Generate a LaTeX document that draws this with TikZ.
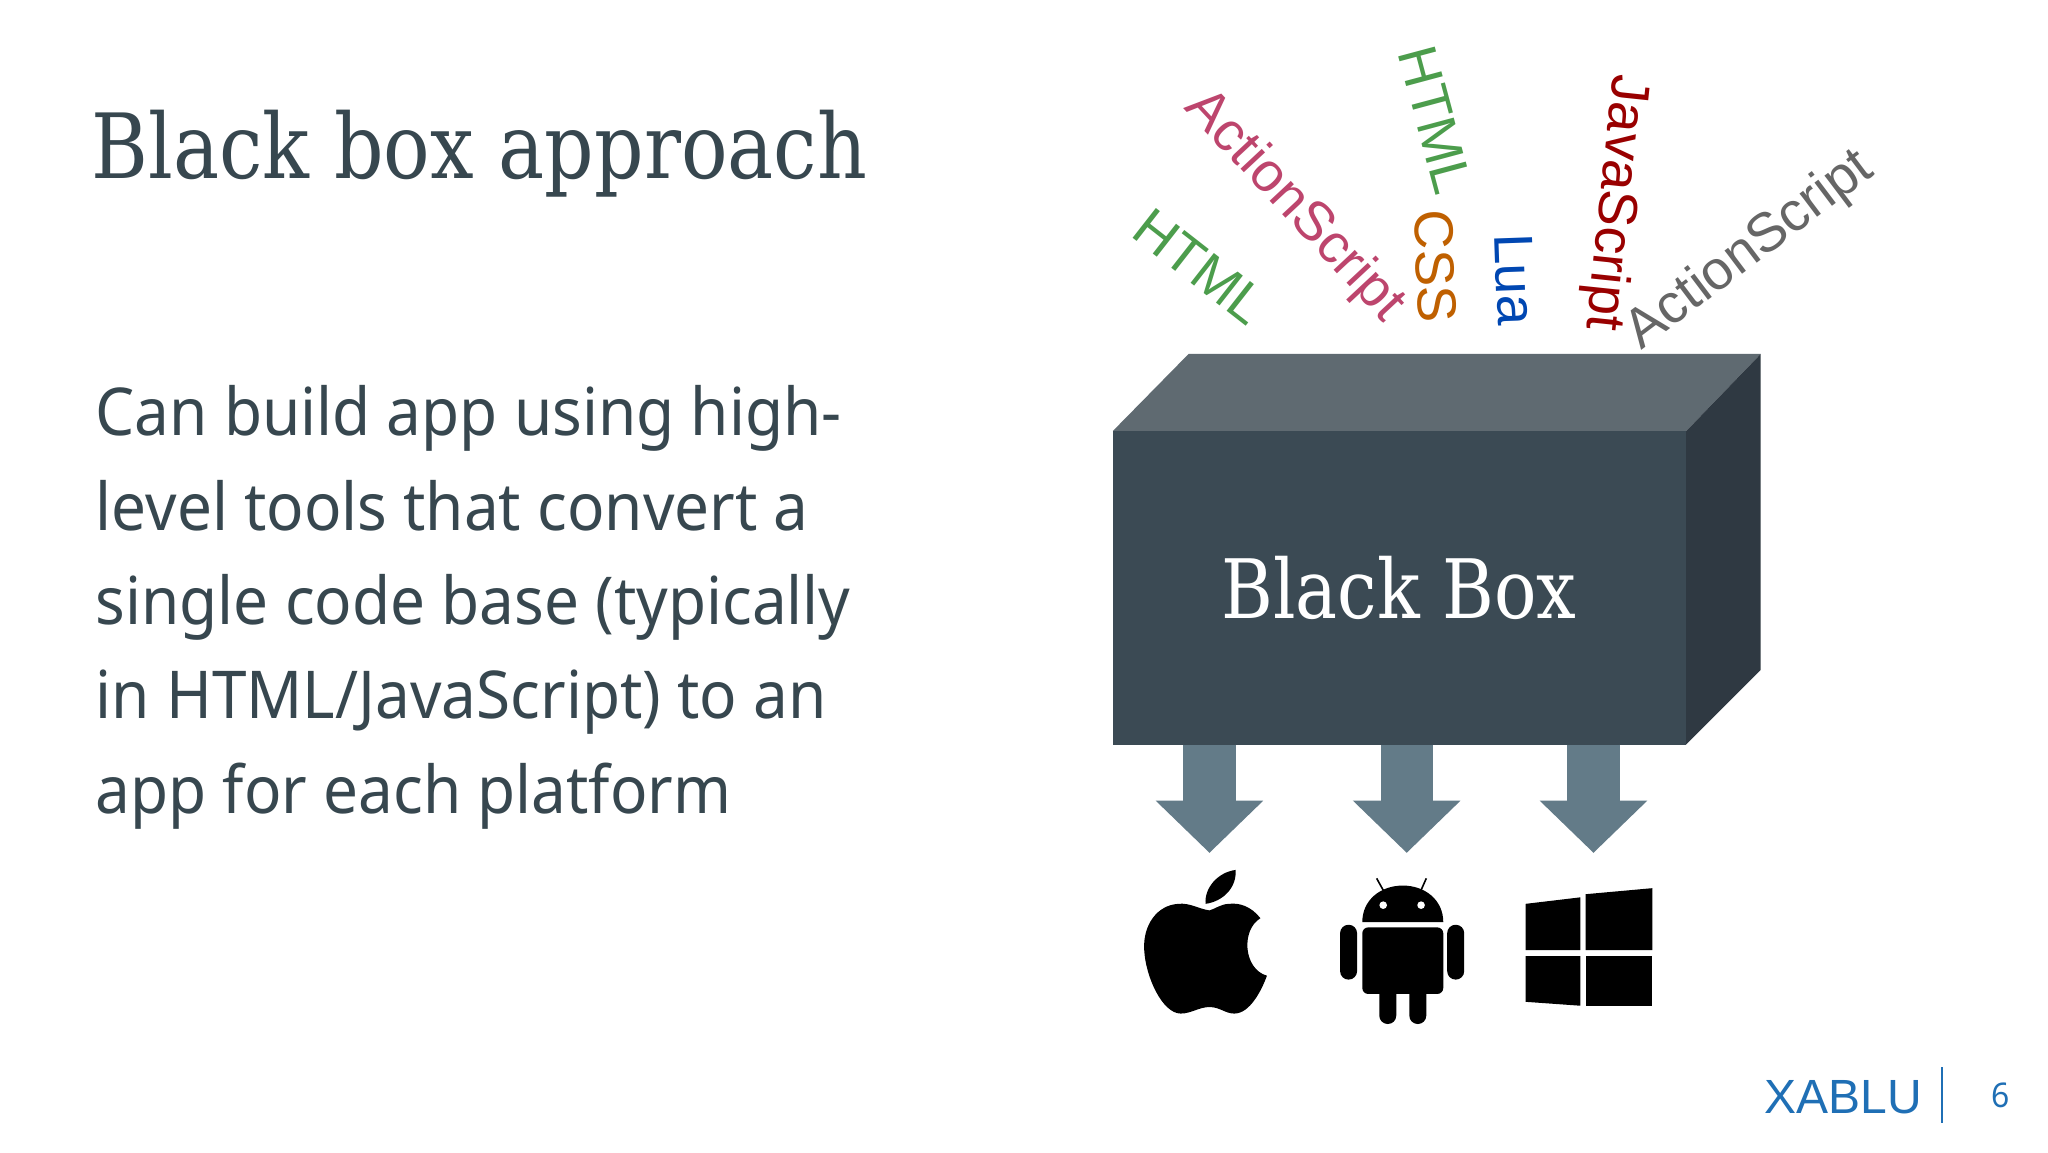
\documentclass[tikz,border=0pt]{standalone}
\usepackage{fontspec}
\usepackage{tikz}
\usetikzlibrary{arrows.meta}
\setmainfont{Liberation Sans}
\newfontfamily\slabfont[FakeStretch=0.86]{DejaVu Serif}
\newfontfamily\bodyfont[FakeStretch=0.94]{Noto Sans}
\definecolor{slate}{HTML}{37474F}
\definecolor{boxfront}{HTML}{3B4A54}
\definecolor{boxtop}{HTML}{5F6A71}
\definecolor{boxside}{HTML}{2F3942}
\definecolor{arrowblue}{HTML}{637B88}
\definecolor{xablu}{HTML}{1F6FB5}
\tikzset{
    lang/.style={inner sep=0pt, font=\fontsize{27.5}{30}\selectfont},
    platformarrow/.style={line width=26.1pt, arrowblue, -{Triangle[length=26.1pt, width=52.2pt]}},
}

\begin{document}
\begin{tikzpicture}[x=0.65306pt, y=-0.65306pt]
\useasboundingbox (0, 0) rectangle (1568, 882);
\fill[white] (0, 0) rectangle (1568, 882);

\node[anchor=west, inner sep=0pt, text=slate, font=\slabfont\fontsize{45}{50}\selectfont] (title) at (70, 118) {Black box approach};
\node[anchor=west, inner sep=0pt, text=slate, align=left, font=\bodyfont\fontsize{33}{47.2}\selectfont] (body) at (73, 465)
    {Can build app using high-\\level tools that convert a\\single code base (typically\\in HTML/JavaScript) to an\\app for each platform};

% the box
\fill[boxtop]   (852, 330) -- (910, 271) -- (1348, 271) -- (1291, 330) -- cycle;
\fill[boxside]  (1291, 330) -- (1348, 271) -- (1348, 513) -- (1291, 570) -- cycle;
\fill[boxfront] (852, 330) rectangle (1291, 570);
\node[text=white, inner sep=0pt, font=\slabfont\fontsize{41}{46}\selectfont] (blackbox) at (1071, 450) {Black Box};

% languages going in
\node[lang, text=green!45!black!70!white, rotate=-38] (htmlleft) at (919, 204) {HTML};
\node[lang, text=purple!70!white!90!black, rotate=-47] (actionleft) at (991, 158) {ActionScript};
\node[lang, text=green!45!black!70!white, rotate=-75] (htmltop) at (1099, 92) {HTML};
\node[lang, text=orange!75!black, rotate=-88] (css) at (1099, 204) {CSS};
\node[lang, text=blue!60!cyan!70!black, rotate=-88] (lua) at (1160, 214) {Lua};
\node[lang, text=red!60!black, rotate=-96] (javascript) at (1236, 155) {JavaScript};
\node[lang, text=black!60, rotate=37] (actionright) at (1340, 192) {ActionScript};

% platforms
\coordinate (arrowa) at (926, 570);
\coordinate (tipa) at (926, 653);
\coordinate (arrowb) at (1077, 570);
\coordinate (tipb) at (1077, 653);
\coordinate (arrowc) at (1220, 570);
\coordinate (tipc) at (1220, 653);
\foreach \from/\to in {arrowa/tipa, arrowb/tipb, arrowc/tipc}
    \draw[platformarrow] (\from) -- (\to);

% apple
\fill[black] (923, 692) .. controls (922, 680) and (932, 668) .. (946, 666) .. controls (947, 679) and (937, 690) .. cycle;
\fill[black] (926, 697) .. controls (918, 696) and (911, 691) .. (902, 692)
    .. controls (886, 693) and (875, 708) .. (876, 727)
    .. controls (877, 748) and (890, 776) .. (904, 776)
    .. controls (912, 776) and (918, 771) .. (926, 771)
    .. controls (934, 771) and (938, 776) .. (945, 776)
    .. controls (957, 776) and (966, 758) .. (970, 747)
    .. controls (952, 742) and (950, 712) .. (965, 703)
    .. controls (958, 694) and (949, 691) .. (941, 692)
    .. controls (935, 692) and (930, 696) .. cycle;

% android
\fill[black] (1043, 706) .. controls (1043, 689) and (1057, 678) .. (1074, 678) .. controls (1091, 678) and (1105, 689) .. (1105, 706) -- cycle;
\fill[black, rounded corners=3pt] (1043, 710) -- (1105, 710) -- (1105, 761) -- (1043, 761) -- cycle;
\fill[black, rounded corners=4.2pt] (1026, 708) rectangle (1039, 750);
\fill[black, rounded corners=4.2pt] (1108, 708) rectangle (1121, 750);
\fill[black, rounded corners=4.2pt] (1056, 750) rectangle (1069, 784);
\fill[black, rounded corners=4.2pt] (1079, 750) rectangle (1092, 784);
\fill[white] (1059, 693) circle (1.9pt) (1088, 693) circle (1.9pt);
\draw[black, line width=0.8pt] (1054, 672.5) -- (1059, 681.5) (1092, 672.5) -- (1088, 681.5);

% windows
\fill[black] (1168, 692) -- (1210, 687) -- (1210, 727.5) -- (1168, 727.5) -- cycle;
\fill[black] (1214, 684.6) -- (1265, 680) -- (1265, 727.5) -- (1214, 727.5) -- cycle;
\fill[black] (1168, 732) -- (1210, 732) -- (1210, 770) -- (1168, 767) -- cycle;
\fill[black] (1214, 732) rectangle (1265, 770);

% footer
\node[inner sep=0pt, text=xablu, font=\fontsize{24}{26}\selectfont] (logo) at (1411, 840) {XABLU};
\node[inner sep=0pt, text=xablu, font=\bodyfont\bfseries\fontsize{17}{20}\selectfont] (pagenum) at (1532, 839) {6};
\draw[xablu, line width=1pt] (1487, 817) -- (1487, 860);
\end{tikzpicture}
\end{document}
